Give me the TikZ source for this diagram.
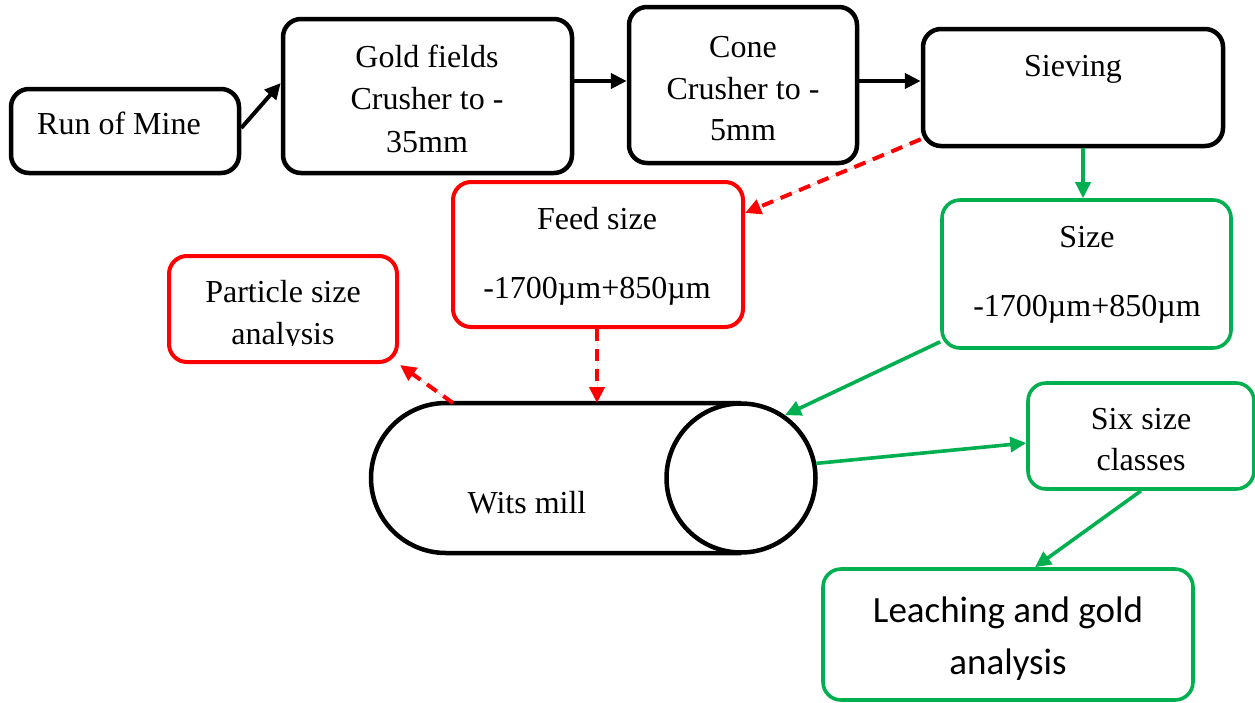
\documentclass[tikz,border=0pt]{standalone}
\usepackage{fontspec}
\setmainfont{Liberation Serif}
\newfontfamily\calfont{Carlito}
\usetikzlibrary{arrows.meta,calc}
\definecolor{wred}{HTML}{FF0000}
\definecolor{wgreen}{HTML}{00B050}
\tikzset{
  box/.style={draw, rounded corners=18pt, inner sep=0pt, fill=white},
  blackbox/.style={box, line width=4.5pt, draw=black},
  redbox/.style={box, line width=4pt, draw=wred},
  greenbox/.style={box, line width=3.6pt, draw=wgreen},
  txt/.style={anchor=base, inner sep=0pt, font=\fontsize{32}{38}\selectfont},
  caltxt/.style={anchor=base, inner sep=0pt, font=\calfont\fontsize{37}{44}\selectfont},
  tip/.style={-{Triangle[length=16pt,width=15pt]}},
  blackarrow/.style={tip, line width=4pt, draw=black},
  redarrow/.style={-{Triangle[length=16pt,width=15pt]}, line width=4pt, draw=wred, fill=wred, dash pattern=on 12pt off 8pt},
  greenarrow/.style={tip, line width=3.6pt, draw=wgreen, fill=wgreen}
}
\begin{document}
\begin{tikzpicture}[x=1pt,y=-1pt]
\useasboundingbox (0,0) rectangle (1255,702);
% boxes
\node[blackbox, minimum width=228, minimum height=84] (rom) at (125,131) {};
\node[blackbox, minimum width=289, minimum height=154] (gold) at (427.5,96) {};
\node[blackbox, minimum width=228, minimum height=156] (cone) at (743,85) {};
\node[blackbox, minimum width=300, minimum height=117] (siev) at (1073,87.5) {};
\node[redbox, minimum width=290, minimum height=145] (feed) at (598,254.5) {};
\node[greenbox, minimum width=289, minimum height=148] (size) at (1086.5,274) {};
\node[redbox, minimum width=228, minimum height=106] (part) at (283,309) {};
\node[greenbox, minimum width=226, minimum height=106] (six) at (1141,436) {};
\node[greenbox, minimum width=370, minimum height=131] (leach) at (1008,634.5) {};
% texts
\node[txt] (trom) at (119,134) {Run of Mine};
\node[txt] (tgold1) at (427,67) {Gold fields};
\node[txt] (tgold2) at (427,109) {Crusher to -};
\node[txt] (tgold3) at (427,152) {35mm};
\node[txt] (tcone1) at (743,57) {Cone};
\node[txt] (tcone2) at (743,99) {Crusher to -};
\node[txt] (tcone3) at (743,140) {5mm};
\node[txt] (tsiev) at (1073,76) {Sieving};
\node[txt] (tfeed1) at (597,229) {Feed size};
\node[txt] (tfeed2) at (597,298) {-1700µm+850µm};
\node[txt] (tsize1) at (1087,247) {Size};
\node[txt] (tsize2) at (1087,316) {-1700µm+850µm};
\node[txt] (tpart1) at (283,302) {Particle size};
\begin{scope}
\clip (165,320) rectangle (400,345);
\node[txt] (tpart2) at (283,344) {analysis};
\end{scope}
\node[txt] (tsix1) at (1141,429) {Six size};
\node[txt] (tsix2) at (1141,470) {classes};
\node[caltxt] (tleach1) at (1008,622) {Leaching and gold};
\node[caltxt] (tleach2) at (1008,674) {analysis};
% Wits mill
\draw[line width=4.5pt] (741,403) -- (446,403) arc[start angle=90, end angle=270, radius=75pt] -- (741,553);
\node[draw, circle, line width=4.5pt, minimum size=149, inner sep=0pt, fill=white] (drum) at (741,478) {};
\node[txt] (tmill) at (527,513) {Wits mill};
\coordinate (millfeed) at (597,403);
\coordinate (millpsa) at (453,403);
% connectors
\draw[blackarrow] ($(rom.east)+(0,-3)$) -- ($(gold.west)+(0,-13)$);
\draw[blackarrow] (gold.east |- 0,81) -- (cone.west |- 0,81);
\draw[blackarrow] (cone.east |- 0,81) -- (siev.west |- 0,81);
\draw[redarrow] ($(siev.south west)+(0,-9)$) -- (feed.east |- 0,213);
\draw[greenarrow] (siev.south -| 1083,0) -- (size.north -| 1083,0);
\draw[redarrow] (feed.south -| millfeed) -- (millfeed);
\draw[redarrow] (millpsa) -- ($(part.south east)+(1,1)$);
\draw[greenarrow] ($(size.south west)+(0,-8)$) -- (drum.55);
\draw[greenarrow] (drum.11) -- (six.west |- 0,443);
\draw[greenarrow] (six.south) -- ($(leach.north)+(27,0)$);
\end{tikzpicture}
\end{document}
